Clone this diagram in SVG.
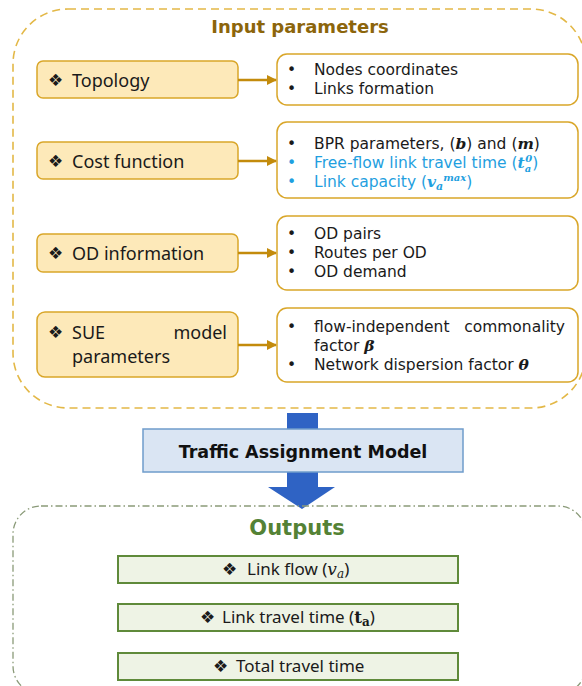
<svg xmlns="http://www.w3.org/2000/svg" width="582" height="686" viewBox="0 0 582 686">
<defs>
<style>
.lbox{fill:#fde9b9;stroke:#d9a629;stroke-width:1.5}
.rbox{fill:#ffffff;stroke:#d9a629;stroke-width:1.5}
.obox{fill:#eef3e5;stroke:#5f8a3a;stroke-width:2}
.lt{font-family:"Noto Sans","Open Sans",sans-serif;font-size:18px;fill:#1a1a1a}
.rt{font-family:"DejaVu Sans","Verdana",sans-serif;font-size:15.5px;fill:#1a1a1a}
.blue{fill:#1fa0e0}
.ot{font-family:"Noto Sans","Open Sans",sans-serif;font-size:17px;fill:#1a1a1a}
.m{font-family:"DejaVu Serif","Liberation Serif",serif;font-weight:bold;font-style:italic}
.dia{font-family:"DejaVu Sans",sans-serif;font-size:17px;fill:#1a1a1a}
.conn{stroke:#c38b0c;stroke-width:2.5;fill:none}
</style>
<marker id="ah" viewBox="0 0 10 10" refX="9" refY="5" markerWidth="4" markerHeight="4" orient="auto" markerUnits="strokeWidth">
<path d="M0,0 L10,5 L0,10 z" fill="#c38b0c"/>
</marker>
</defs>

<g id="input-group">
<rect x="13" y="9" width="573" height="399" rx="55" ry="55" fill="none" stroke="#e3b847" stroke-width="1.6" stroke-dasharray="8,5"/>
<text x="300" y="33" text-anchor="middle" font-family="DejaVu Sans,Verdana,sans-serif" font-weight="bold" font-size="18" fill="#8c650b">Input parameters</text>
</g>

<g id="topology">
<rect class="lbox" x="37" y="61" width="201" height="37" rx="6"/>
<text class="dia" x="48" y="86">❖</text>
<text class="lt" x="72" y="87">Topology</text>
</g>
<g id="topology-detail">
<rect class="rbox" x="277" y="54" width="301" height="51" rx="10"/>
<text class="rt" x="287" y="75">•</text>
<text class="rt" x="314" y="75">Nodes coordinates</text>
<text class="rt" x="287" y="94">•</text>
<text class="rt" x="314" y="94">Links formation</text>
</g>

<g id="cost-function">
<rect class="lbox" x="37" y="142" width="201" height="37" rx="6"/>
<text class="dia" x="48" y="167">❖</text>
<text class="lt" x="72" y="168">Cost function</text>
</g>
<g id="cost-detail">
<rect class="rbox" x="277" y="122" width="301" height="76" rx="10"/>
<text class="rt" x="287" y="149">•</text>
<text class="rt" x="314" y="149">BPR parameters, (<tspan class="m">b</tspan>) and (<tspan class="m">m</tspan>)</text>
<text class="rt blue" x="287" y="168">•</text>
<text class="rt blue" x="314" y="168">Free-flow link travel time (<tspan class="m">t</tspan><tspan class="m" font-size="10" dy="4">a</tspan><tspan class="m" font-size="10" dx="-6" dy="-10">0</tspan><tspan dy="6">)</tspan></text>
<text class="rt blue" x="287" y="187">•</text>
<text class="rt blue" x="314" y="187">Link capacity (<tspan class="m">v</tspan><tspan class="m" font-size="11" dy="3">a</tspan><tspan class="m" font-size="10" dy="-9">max</tspan><tspan dy="6">)</tspan></text>
</g>

<g id="od-information">
<rect class="lbox" x="37" y="234" width="201" height="38" rx="6"/>
<text class="dia" x="48" y="259">❖</text>
<text class="lt" x="72" y="260">OD information</text>
</g>
<g id="od-detail">
<rect class="rbox" x="277" y="216" width="301" height="74" rx="10"/>
<text class="rt" x="287" y="239">•</text>
<text class="rt" x="314" y="239">OD pairs</text>
<text class="rt" x="287" y="258">•</text>
<text class="rt" x="314" y="258">Routes per OD</text>
<text class="rt" x="287" y="277">•</text>
<text class="rt" x="314" y="277">OD demand</text>
</g>

<g id="sue-parameters">
<rect class="lbox" x="37" y="312" width="201" height="65" rx="8"/>
<text class="dia" x="48" y="338">❖</text>
<text class="lt" x="72" y="339">SUE</text>
<text class="lt" x="227" y="339" text-anchor="end">model</text>
<text class="lt" x="72" y="363">parameters</text>
</g>
<g id="sue-detail">
<rect class="rbox" x="277" y="308" width="301" height="74" rx="10"/>
<text class="rt" x="287" y="332">•</text>
<text class="rt" x="314" y="332">flow-independent</text>
<text class="rt" x="565" y="332" text-anchor="end">commonality</text>
<text class="rt" x="314" y="351">factor <tspan class="m">β</tspan></text>
<text class="rt" x="287" y="370">•</text>
<text class="rt" x="314" y="370">Network dispersion factor <tspan class="m">θ</tspan></text>
</g>

<g id="connectors">
<line class="conn" x1="238" y1="80" x2="276" y2="80" marker-end="url(#ah)"/>
<line class="conn" x1="238" y1="161" x2="276" y2="161" marker-end="url(#ah)"/>
<line class="conn" x1="238" y1="253" x2="276" y2="253" marker-end="url(#ah)"/>
<line class="conn" x1="238" y1="345" x2="276" y2="345" marker-end="url(#ah)"/>
<path d="M287,413 H318 V487 H335 L302,509 L268,487 H287 Z" fill="#2f63c4"/>
</g>

<g id="traffic-assignment-model">
<rect x="143" y="429" width="320" height="43" fill="#dae5f3" stroke="#6f9ccb" stroke-width="1.5"/>
<text x="303" y="458" text-anchor="middle" font-family="DejaVu Sans,Verdana,sans-serif" font-weight="bold" font-size="17.5" fill="#111">Traffic Assignment Model</text>
</g>

<g id="outputs-group">
<rect x="13" y="506" width="573" height="188" rx="28" ry="28" fill="none" stroke="#8a9a78" stroke-width="1.3" stroke-dasharray="7,3,1.5,3"/>
<text x="297" y="535" text-anchor="middle" font-family="DejaVu Sans,Verdana,sans-serif" font-weight="bold" font-size="21" fill="#548235">Outputs</text>
</g>

<g id="link-flow">
<rect class="obox" x="118" y="556" width="340" height="27"/>
<text class="dia" x="222" y="575" font-size="14">❖</text>
<text class="ot" x="247" y="575">Link flow (<tspan font-family="DejaVu Serif,serif" font-style="italic">v</tspan><tspan font-family="DejaVu Serif,serif" font-style="italic" font-size="12" dy="3">a</tspan><tspan dy="-3">)</tspan></text>
</g>
<g id="link-travel-time">
<rect class="obox" x="118" y="604" width="340" height="27"/>
<text class="dia" x="200" y="623" font-size="14">❖</text>
<text class="ot" x="222" y="623">Link travel time (<tspan font-family="DejaVu Serif,serif" font-weight="bold">t</tspan><tspan font-family="DejaVu Serif,serif" font-weight="bold" font-size="12" dy="3">a</tspan><tspan dy="-3">)</tspan></text>
</g>
<g id="total-travel-time">
<rect class="obox" x="118" y="653" width="340" height="27"/>
<text class="dia" x="213" y="672" font-size="14">❖</text>
<text class="ot" x="236" y="672">Total travel time</text>
</g>
</svg>
